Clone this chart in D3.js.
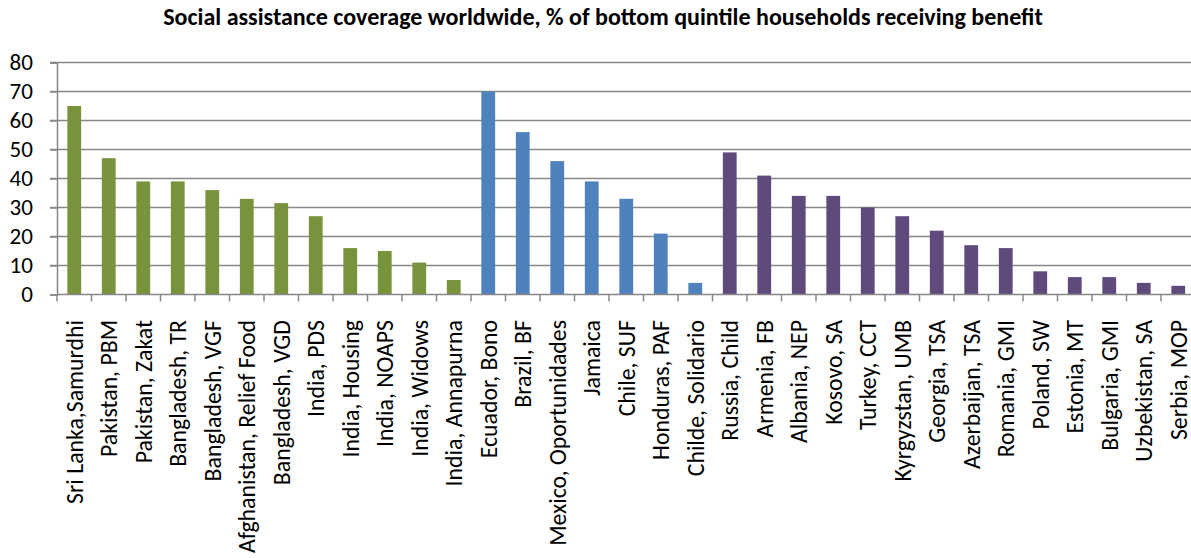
<!DOCTYPE html>
<html><head><meta charset="utf-8">
<script src="https://cdn.jsdelivr.net/npm/d3@7"></script>
<style>body{margin:0;background:#fff;} svg{display:block;}</style>
</head><body>
<svg id="chart" width="1191" height="558"></svg>
<script>
const categories = ["Sri Lanka,Samurdhi","Pakistan, PBM","Pakistan, Zakat","Bangladesh, TR","Bangladesh, VGF","Afghanistan, Relief Food","Bangladesh, VGD","India, PDS","India, Housing","India, NOAPS","India, Widows","India, Annapurna","Ecuador, Bono","Brazil, BF","Mexico, Oportunidades","Jamaica","Chile, SUF","Honduras, PAF","Childe, Solidario","Russia, Child","Armenia, FB","Albania, NEP","Kosovo, SA","Turkey, CCT","Kyrgyzstan, UMB","Georgia, TSA","Azerbaijan, TSA","Romania, GMI","Poland, SW","Estonia, MT","Bulgaria, GMI","Uzbekistan, SA","Serbia, MOP"];
const values = [65,47,39,39,36,33,31.5,27,16,15,11,5,70,56,46,39,33,21,4,49,41,34,34,30,27,22,17,16,8,6,6,4,3];
const groups = ["South Asia","South Asia","South Asia","South Asia","South Asia","South Asia","South Asia","South Asia","South Asia","South Asia","South Asia","South Asia","Latin America","Latin America","Latin America","Latin America","Latin America","Latin America","Latin America","ECA","ECA","ECA","ECA","ECA","ECA","ECA","ECA","ECA","ECA","ECA","ECA","ECA","ECA"];
const groupNames = ["South Asia","Latin America","ECA"];
const groupColors = ["#77933C","#4F81BD","#604A7B"];
const yTicks = [0,10,20,30,40,50,60,70,80];
const title = "Social assistance coverage worldwide, % of bottom quintile households receiving benefit";

const svg = d3.select("#chart");
const font = "Carlito, Lato, 'Open Sans', sans-serif";

// measure helper to size fonts to the reference text widths
function fitSize(str, target, weight) {
  const t = svg.append("text").attr("font-family", font).attr("font-size", 20)
    .attr("font-weight", weight || "normal").text(str);
  const w = t.node().getComputedTextLength();
  t.remove();
  return 20 * target / w;
}
const labelSize = fitSize("Sri Lanka,Samurdhi", 184);
const tickSize = fitSize("80", 23.4);
const titleSize = fitSize(title, 880, "bold");

const x0 = 57, bandW = 34.5;
const x = d3.scaleBand().domain(categories).range([x0, x0 + bandW*categories.length]).paddingInner(0.6).paddingOuter(0.3);
const y = d3.scaleLinear().domain([0,80]).range([294.5, 62.5]);
const color = d3.scaleOrdinal().domain(groupNames).range(groupColors);

// gridlines
svg.append("g").selectAll("line").data(yTicks.filter(d=>d>0)).join("line")
  .attr("x1", 50).attr("x2", 1191).attr("y1", d=>y(d)).attr("y2", d=>y(d))
  .attr("stroke", "#888").attr("stroke-width", 1.5);

// y axis
const yAxis = d3.axisLeft(y).tickValues(yTicks).tickSize(7).tickPadding(17).tickFormat(d3.format("d"));
const gy = svg.append("g").attr("transform", `translate(${x0},0)`).call(yAxis);
gy.select(".domain").attr("stroke", "#888").attr("stroke-width", 1.5);
gy.selectAll(".tick line").attr("stroke", "#888").attr("stroke-width", 1.5);
gy.selectAll("text").attr("font-family", font).attr("font-size", tickSize).attr("fill", "#000");

// bars
svg.append("g").selectAll("rect").data(categories).join("rect")
  .attr("x", (d)=>x(d)).attr("width", x.bandwidth())
  .attr("y", (d,i)=>y(values[i])).attr("height", (d,i)=>y(0)-y(values[i]))
  .attr("fill", (d,i)=>color(groups[i]));

// x axis baseline and ticks at band boundaries
const xg = svg.append("g");
xg.append("line").attr("x1", x0).attr("x2", 1191).attr("y1", y(0)).attr("y2", y(0))
  .attr("stroke", "#888").attr("stroke-width", 1.5);
const bounds = d3.range(categories.length + 1).map(i => x0 + i*bandW);
xg.selectAll("line.t").data(bounds).join("line").attr("class","t")
  .attr("x1", d=>d).attr("x2", d=>d).attr("y1", y(0)).attr("y2", y(0)+7)
  .attr("stroke", "#888").attr("stroke-width", 1.5);

// x labels
xg.selectAll("text").data(categories).join("text")
  .attr("transform", d => `translate(${x(d)+x.bandwidth()/2},320) rotate(-90)`)
  .attr("dy", "0.35em")
  .attr("text-anchor", "end")
  .attr("font-family", font).attr("font-size", labelSize).attr("fill", "#000")
  .text(d=>d);

// title
svg.append("text").attr("x", 603).attr("y", 25).attr("text-anchor", "middle")
  .attr("font-family", font).attr("font-size", titleSize).attr("font-weight", "bold").attr("fill", "#000")
  .text(title);
</script>
</body></html>
